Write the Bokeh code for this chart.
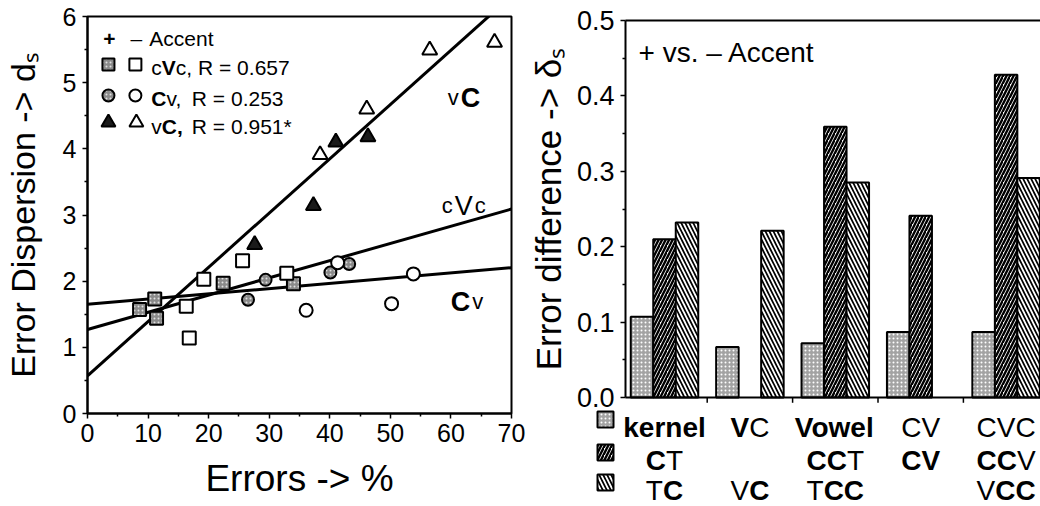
from bokeh.plotting import figure
from bokeh.models import Range1d, FixedTicker, NumeralTickFormatter
from bokeh.layouts import row
from bokeh.embed import file_html
from bokeh.resources import INLINE
from bokeh.core.properties import value

FONT = "Liberation Sans"

# ---------------- left panel data: Errors (%) vs error dispersion d_s
sq_acc_x = [8.6, 11.1, 11.4, 22.4, 34.0]
sq_acc_y = [1.57, 1.73, 1.44, 1.97, 1.96]
sq_noacc_x = [16.3, 16.8, 19.2, 25.6, 32.9]
sq_noacc_y = [1.62, 1.14, 2.03, 2.31, 2.12]
ci_acc_x = [26.5, 29.4, 40.1, 43.2]
ci_acc_y = [1.72, 2.02, 2.13, 2.26]
ci_noacc_x = [36.1, 41.3, 50.2, 53.8]
ci_noacc_y = [1.56, 2.28, 1.66, 2.11]
tr_acc_x = [27.6, 37.3, 41.0, 46.3]
tr_acc_y = [2.55, 3.14, 4.10, 4.18]
tr_noacc_x = [38.4, 46.1, 56.5, 67.2]
tr_noacc_y = [3.91, 4.60, 5.49, 5.61]

# regression lines (intercept, slope)
fit_cvc = (1.27, 0.026)
fit_cv = (1.65, 0.0079)
fit_vc = (0.57, 0.082)
fit_x = [0, 70]

left_x_ticks = [0, 10, 20, 30, 40, 50, 60, 70]
left_x_minor = [5, 15, 25, 35, 45, 55, 65]
left_y_ticks = [0, 1, 2, 3, 4, 5, 6]
left_y_minor = [0.5, 1.5, 2.5, 3.5, 4.5, 5.5]

# ---------------- right panel data: error difference delta_s
groups = ["kernel", "VC", "Vowel", "CV", "CVC"]
kernel_vals = [0.107, 0.067, 0.072, 0.087, 0.087]
cons_vals = [0.210, None, 0.359, 0.241, 0.428]
trans_vals = [0.232, 0.221, 0.285, None, 0.291]
right_y_ticks = [0.0, 0.1, 0.2, 0.3, 0.4, 0.5]
right_y_minor = [0.05, 0.15, 0.25, 0.35, 0.45]

# category label rows: (text, bold)
label_row1 = [[("kernel", True)], [("V", True), ("C", False)], [("Vowel", True)],
              [("CV", False)], [("CVC", False)]]
label_row2 = [[("C", True), ("T", False)], [], [("CC", True), ("T", False)],
              [("CV", True)], [("CC", True), ("V", False)]]
label_row3 = [[("T", False), ("C", True)], [("V", False), ("C", True)],
              [("T", False), ("CC", True)], [], [("V", False), ("CC", True)]]

# ---------------- helpers
REG = {' ': .278, '+': .584, '–': .556, 'A': .667, 'c': .5, 'e': .556, 'n': .556,
       't': .278, 'V': .667, 'C': .722, 'T': .611, 'v': .5, ',': .278, 'R': .722,
       '=': .584, '.': .278, '*': .389, 's': .5, 'k': .5, 'r': .333, 'l': .222,
       'o': .556, 'w': .722}
BOLD = {'C': .722, 'V': .667, 'T': .611, 'k': .556, 'e': .556, 'r': .389, 'n': .611,
        'l': .278, 'o': .611, 'w': .778, 'v': .556, 'c': .556, ',': .278, '+': .584}


def tw(s, size, bold):
    tbl = BOLD if bold else REG
    return sum(tbl.get(ch, 0.556) for ch in s) * size


def seg_text(p, x, y, segs, align="left"):
    # segs: list of (text, size_px, bold, gap_before_px)
    total = sum(tw(t, s, b) + g for t, s, b, g in segs)
    off = -total / 2 if align == "center" else 0
    for t, s, b, g in segs:
        off += g
        p.text(x=[x], y=[y], text=[t], x_offset=off, text_font=value(FONT),
               text_font_size=f"{s}px", text_font_style="bold" if b else "normal",
               text_color="black", text_align="left", text_baseline="alphabetic")
        off += tw(t, s, b)


def style_axis(ax, lab_size, tick_size):
    ax.axis_line_width = 2
    ax.axis_line_color = "black"
    ax.major_tick_line_width = 1.5
    ax.major_tick_in = 0
    ax.major_tick_out = 5
    ax.minor_tick_in = 0
    ax.minor_tick_out = 3
    ax.minor_tick_line_width = 1.5
    ax.major_label_text_font = FONT
    ax.major_label_text_font_size = tick_size
    ax.major_label_text_color = "black"
    ax.axis_label_text_font = FONT
    ax.axis_label_text_font_size = lab_size
    ax.axis_label_text_font_style = "normal"
    ax.axis_label_text_color = "black"


def no_align(p):
    try:
        p.frame_align = False
    except Exception:
        pass


# ================= left figure (page x 0..527)
p1 = figure(width=527, height=506, x_range=Range1d(0, 70), y_range=Range1d(0, 6),
            output_backend="svg", toolbar_location=None,
            min_border_left=86, min_border_right=16, min_border_top=16, min_border_bottom=93)
no_align(p1)
p1.grid.visible = False
p1.outline_line_color = "black"
p1.outline_line_width = 2
p1.xaxis.ticker = FixedTicker(ticks=left_x_ticks, minor_ticks=left_x_minor)
p1.yaxis.ticker = FixedTicker(ticks=left_y_ticks, minor_ticks=left_y_minor)
style_axis(p1.xaxis[0], "37px", "25px")
style_axis(p1.yaxis[0], "34px", "25px")
p1.xaxis.axis_label = "Errors -> %"
p1.yaxis.axis_label = "Error Dispersion -> dₛ"
p1.xaxis.major_label_standoff = 5
p1.xaxis.axis_label_standoff = 13
p1.yaxis.major_label_standoff = 6
p1.yaxis.axis_label_standoff = 18


def Lx(px):
    return (px - 86) * 70 / 425


def Ly(py):
    return (413 - py) * 6 / 397


for a, b in (fit_cvc, fit_cv, fit_vc):
    p1.line(x=fit_x, y=[a + b * fit_x[0], a + b * fit_x[1]], line_color="black", line_width=3)

sq_fill = dict(fill_color="#8a8a8a", hatch_pattern="dot", hatch_color="#e0e0e0",
               hatch_scale=4, hatch_weight=1)
p1.scatter(sq_acc_x, sq_acc_y, marker="square", size=13, line_color="black", line_width=2, **sq_fill)
p1.scatter(sq_noacc_x, sq_noacc_y, marker="square", size=13, fill_color="white",
           line_color="black", line_width=2)
p1.scatter(ci_acc_x, ci_acc_y, marker="circle", size=12, line_color="black", line_width=2, **sq_fill)
p1.scatter(ci_noacc_x, ci_noacc_y, marker="circle", size=13, fill_color="white",
           line_color="black", line_width=2)
p1.scatter(tr_acc_x, tr_acc_y, marker="triangle", size=15, fill_color="#1a1a1a",
           line_color="black", line_width=2)
p1.scatter(tr_noacc_x, tr_noacc_y, marker="triangle", size=15, fill_color="white",
           line_color="black", line_width=2)

# legend (drawn)
seg_text(p1, Lx(108), Ly(38), [("+", 21, True, 0)], align="center")
seg_text(p1, Lx(135), Ly(38), [("–", 21, False, 0)], align="center")
seg_text(p1, Lx(148), Ly(38), [("Accent", 21, False, 0)])
p1.scatter([Lx(107)], [Ly(64)], marker="square", size=12, line_color="black", line_width=2, **sq_fill)
p1.scatter([Lx(134)], [Ly(64)], marker="square", size=12, fill_color="white", line_color="black", line_width=2)
p1.scatter([Lx(107)], [Ly(95)], marker="circle", size=12, line_color="black", line_width=2, **sq_fill)
p1.scatter([Lx(134)], [Ly(95)], marker="circle", size=12, fill_color="white", line_color="black", line_width=2)
p1.scatter([Lx(107)], [Ly(122)], marker="triangle", size=14, fill_color="#1a1a1a", line_color="black", line_width=2)
p1.scatter([Lx(135)], [Ly(122)], marker="triangle", size=14, fill_color="white", line_color="black", line_width=2)
seg_text(p1, Lx(150), Ly(67), [("c", 21, False, 0), ("V", 21, True, 0), ("c, R = 0.657", 21, False, 0)])
seg_text(p1, Lx(150), Ly(98), [("C", 21, True, 0), ("v,", 21, False, 0), ("R = 0.253", 21, False, 9)])
seg_text(p1, Lx(150), Ly(126), [("v", 21, False, 0), ("C,", 21, True, 0), ("R = 0.951*", 21, False, 9)])

# curve labels
seg_text(p1, Lx(447), Ly(97), [("v", 22, False, 0), ("C", 27, True, 2)])
seg_text(p1, Lx(441), Ly(205), [("c", 22, False, 0), ("V", 27, False, 2), ("c", 22, False, 2)])
seg_text(p1, Lx(450), Ly(301), [("C", 27, True, 0), ("v", 22, False, 2)])

# ================= right figure (page x 527..1040); frame covers everything,
# the y axis is fixed at the bar-area edge so labels under the bars stay in the frame
AX0 = (625 - 664) / 85.4      # left edge of the bar area (group units)
XR0 = (527 - 664) / 85.4
XR1 = (1040 - 664) / 85.4
p2 = figure(width=513, height=506, x_range=Range1d(XR0, XR1),
            y_range=Range1d((397 - 506) / 754, 397 / 754), x_axis_location=None,
            output_backend="svg", toolbar_location=None,
            min_border_left=0, min_border_right=0, min_border_top=0, min_border_bottom=0)
no_align(p2)
p2.grid.visible = False
p2.outline_line_color = None
p2.yaxis.fixed_location = AX0
p2.yaxis.bounds = (0, 0.5)
p2.yaxis.ticker = FixedTicker(ticks=right_y_ticks, minor_ticks=right_y_minor)
p2.yaxis.formatter = NumeralTickFormatter(format="0.0")
style_axis(p2.yaxis[0], "35px", "27px")
p2.yaxis.axis_label = "Error difference -> δₛ"
p2.yaxis.major_label_standoff = 6
p2.yaxis.axis_label_standoff = 6


def Rx(px):
    return (px - 664) / 85.4


def Ry(py):
    return (397 - py) / 754


BW = 0.2635
gray_style = dict(fill_color="#a3a3a3", hatch_pattern="dot", hatch_color="#ffffff",
                  hatch_scale=4, hatch_weight=1)
cons_style = dict(fill_color="white", hatch_pattern="/", hatch_color="black",
                  hatch_scale=7, hatch_weight=2.4)
trans_style = dict(fill_color="white", hatch_pattern="\\", hatch_color="black",
                   hatch_scale=8, hatch_weight=1.7)

for vals, off, st in ((kernel_vals, -BW, gray_style), (cons_vals, 0.0, cons_style),
                      (trans_vals, BW, trans_style)):
    xs = [i + off for i, v in enumerate(vals) if v is not None]
    tops = [v for v in vals if v is not None]
    p2.vbar(x=xs, top=tops, bottom=0, width=BW, line_color="black", line_width=2, **st)

# frame lines of the bar area (top at 0.5, base line at 0)
p2.segment(x0=[AX0, AX0], y0=[0.5, 0.0], x1=[XR1, XR1], y1=[0.5, 0.0],
           line_color="black", line_width=2)
bx = [i + 0.5 for i in range(len(groups) - 1)]
p2.segment(x0=bx, y0=[0] * len(bx), x1=bx, y1=[-0.007] * len(bx), line_color="black", line_width=1.5)

seg_text(p2, Rx(638), Ry(52), [("+ vs. – Accent", 28, False, 0)])

for rowlabels, base in ((label_row1, 427), (label_row2, 460), (label_row3, 490)):
    for i, segs in enumerate(rowlabels):
        if not segs:
            continue
        seg_text(p2, i, Ry(base), [(t, 28, b, 0) for t, b in segs], align="center")

# legend icons for the three bar series
icon_x = Rx(605)
for yy, st in ((419, gray_style), (452, cons_style), (482, trans_style)):
    p2.scatter([icon_x], [Ry(yy)], marker="square", size=16, line_color="black",
               line_width=2, **st)

layout = row(p1, p2)
open("out.html", "w").write(file_html(layout, INLINE))
